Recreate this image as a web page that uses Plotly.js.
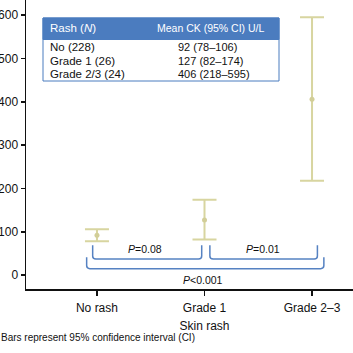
<!DOCTYPE html>
<html>
<head>
<meta charset="utf-8">
<script src="https://cdn.plot.ly/plotly-3.0.1.min.js"></script>
<style>
html,body{margin:0;padding:0;overflow:hidden;background:#fff;}
#chart{width:383px;height:353px;}
</style>
</head>
<body>
<div id="chart"></div>
<script>
// ---- data ----
var categories = ['No rash', 'Grade 1', 'Grade 2\u20133'];
var meanCK = [92, 127, 406];
var ciLow = [78, 82, 218];
var ciHigh = [106, 174, 595];
var groupLabels = ['No', 'Grade 1', 'Grade 2/3'];
var groupN = [228, 26, 24];
var yTicks = [0, 100, 200, 300, 400, 500, 600];
var pLabels = ['<i>P</i>=0.08', '<i>P</i>=0.01', '<i>P</i>&lt;0.001'];

var FONT = 'Liberation Sans, Arial, Helvetica, sans-serif';
var BAR = '#d8d5a0';
var BLUE = '#5682c2';
var HEAD = '#4b7cbf';

var trace = {
  type: 'scatter', mode: 'markers',
  x: [0, 1, 2], y: meanCK,
  marker: {color: '#d2ce98', size: 5},
  error_y: {
    type: 'data', symmetric: false,
    array: meanCK.map(function(m, i){ return ciHigh[i] - m; }),
    arrayminus: meanCK.map(function(m, i){ return m - ciLow[i]; }),
    color: BAR, thickness: 2, width: 12
  },
  hoverinfo: 'skip', showlegend: false
};

// plot area geometry (px) for paper conversions
var L = 26, W = 357, H = 289;
function px(x){ return (x - L) / W; }
function py(y){ return 1 - y / H; }

function bracket(x0, x1, yTop, yBot){
  var rx = 0.03, ry = 7;
  return 'M' + x0 + ',' + yTop + ' L' + x0 + ',' + (yBot + ry) +
    ' Q' + x0 + ',' + yBot + ' ' + (x0 + rx) + ',' + yBot +
    ' L' + (x1 - rx) + ',' + yBot +
    ' Q' + x1 + ',' + yBot + ' ' + x1 + ',' + (yBot + ry) +
    ' L' + x1 + ',' + yTop;
}

var shapes = [
  {type: 'path', xref: 'x', yref: 'y', path: bracket(-0.04, 0.974, 69, 37), line: {color: BLUE, width: 1.5}},
  {type: 'path', xref: 'x', yref: 'y', path: bracket(1.05, 2.05, 69, 37), line: {color: BLUE, width: 1.5}},
  {type: 'path', xref: 'x', yref: 'y', path: bracket(-0.096, 2.11, 41, 15), line: {color: BLUE, width: 1.5}},
  // table box
  {type: 'rect', xref: 'paper', yref: 'paper', x0: px(43), x1: px(279), y0: py(18), y1: py(39.5),
   fillcolor: HEAD, line: {color: HEAD, width: 1}},
  {type: 'rect', xref: 'paper', yref: 'paper', x0: px(43), x1: px(279), y0: py(18), y1: py(81),
   fillcolor: 'rgba(0,0,0,0)', line: {color: HEAD, width: 1}}
];

var annotations = [
  {xref: 'x', yref: 'y', x: 0.45, y: 60, text: pLabels[0], showarrow: false, font: {family: FONT, size: 10.5, color: '#111'}},
  {xref: 'x', yref: 'y', x: 1.545, y: 60, text: pLabels[1], showarrow: false, font: {family: FONT, size: 10.5, color: '#111'}},
  {xref: 'x', yref: 'y', x: 0.986, y: -11.5, text: pLabels[2], showarrow: false, font: {family: FONT, size: 10.5, color: '#111'}},
  {xref: 'paper', yref: 'paper', x: px(48), y: py(28.5), xanchor: 'left', yanchor: 'middle',
   text: 'Rash (<i>N</i>)', showarrow: false, font: {family: FONT, size: 11.5, color: '#fff'}},
  {xref: 'paper', yref: 'paper', x: px(155), y: py(28.5), xanchor: 'left', yanchor: 'middle',
   text: 'Mean CK (95% CI) U/L', showarrow: false, font: {family: FONT, size: 10.5, color: '#fff'}},
  {xref: 'paper', yref: 'paper', x: px(-1), y: py(337), xanchor: 'left', yanchor: 'middle',
   text: 'Bars represent 95% confidence interval (CI)', showarrow: false, font: {family: FONT, size: 10, color: '#111'}}
];
var rowY = [46.5, 60.5, 74];
for (var i = 0; i < groupLabels.length; i++) {
  annotations.push({xref: 'paper', yref: 'paper', x: px(48), y: py(rowY[i]), xanchor: 'left', yanchor: 'middle',
    text: groupLabels[i] + ' (' + groupN[i] + ')', showarrow: false, font: {family: FONT, size: 11.5, color: '#111'}});
  annotations.push({xref: 'paper', yref: 'paper', x: px(175.5), y: py(rowY[i]), xanchor: 'left', yanchor: 'middle',
    text: meanCK[i] + ' (' + ciLow[i] + '\u2013' + ciHigh[i] + ')', showarrow: false, font: {family: FONT, size: 11, color: '#111'}});
}

var layout = {
  width: 383, height: 353,
  margin: {l: 26, r: 0, t: 0, b: 64, pad: 0},
  paper_bgcolor: '#fff', plot_bgcolor: '#fff',
  font: {family: FONT, size: 12, color: '#111'},
  showlegend: false,
  xaxis: {
    range: [-0.66, 2.66], tickvals: [0, 1, 2], ticktext: categories,
    showgrid: false, zeroline: false, showline: true, linecolor: '#111', linewidth: 1.5,
    ticks: 'outside', ticklen: 5, tickwidth: 1.5, tickcolor: '#111',
    ticklabelstandoff: 2,
    tickfont: {family: FONT, size: 12, color: '#111'},
    title: {text: 'Skin rash', font: {family: FONT, size: 12, color: '#111'}, standoff: 7},
    fixedrange: true
  },
  yaxis: {
    range: [-32, 635], tickvals: yTicks, ticktext: yTicks.map(String),
    showgrid: false, zeroline: false, showline: true, linecolor: '#111', linewidth: 1.5,
    ticks: 'outside', ticklen: 4, tickwidth: 1.5, tickcolor: '#111',
    tickfont: {family: FONT, size: 12, color: '#111'},
    fixedrange: true
  },
  shapes: shapes,
  annotations: annotations
};

Plotly.newPlot('chart', [trace], layout, {displayModeBar: false, staticPlot: true});
</script>
</body>
</html>
